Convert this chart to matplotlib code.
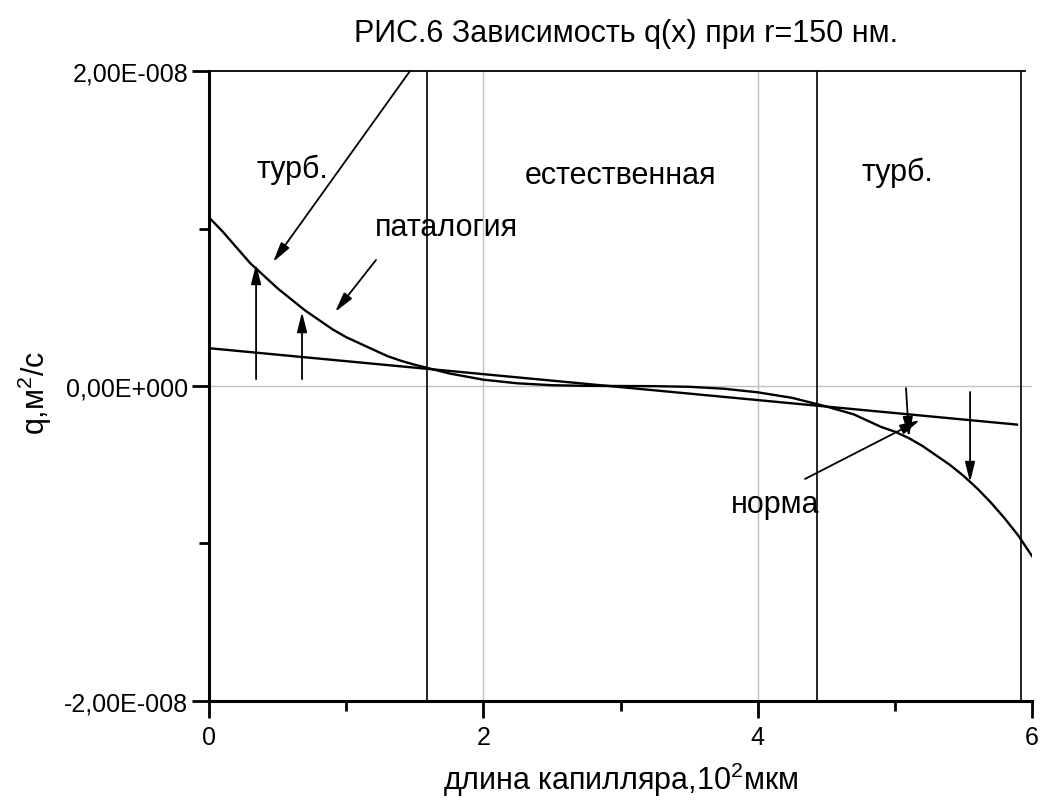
import numpy as np
import matplotlib.pyplot as plt
from matplotlib.ticker import FixedLocator

plt.rcParams['font.family'] = ['Liberation Sans', 'DejaVu Sans']

# кривая q(x), значения (в единицах 1e-8 м^2/с)
x_curve = [0.0, 0.1, 0.2, 0.3, 0.4, 0.5, 0.6, 0.7, 0.8, 0.9, 1.0, 1.1, 1.2, 1.3, 1.4, 1.5,
           1.75, 2.0, 2.25, 2.5, 2.75, 3.0, 3.25, 3.5, 3.75, 4.0, 4.25,
           4.5, 4.6, 4.7, 4.8, 4.9, 5.0, 5.1, 5.2, 5.3, 5.4, 5.5, 5.6, 5.7, 5.8, 5.9, 6.0]
q_curve = [1.07, 0.98, 0.88, 0.78, 0.70, 0.62, 0.55, 0.48, 0.42, 0.36, 0.31, 0.27, 0.23, 0.19, 0.16, 0.135,
           0.08, 0.04, 0.017, 0.005, 0.001, 0.0, -0.001, -0.005, -0.017, -0.04, -0.075,
           -0.13, -0.155, -0.18, -0.22, -0.26, -0.29, -0.33, -0.38, -0.44, -0.50, -0.57, -0.65, -0.74, -0.84, -0.95, -1.08]

# прямая (норма)
x_line = [0.0, 5.89]
q_line = [0.24, -0.245]

# вертикальные границы зон
x_bounds = [1.59, 4.43, 5.92]

# подписи зон
labels = ['турб.', 'естественная', 'турб.', 'паталогия', 'норма']
label_x = [0.605, 3.0, 5.02, 1.728, 4.126]
label_y = [1.378, 1.34, 1.359, 1.01, -0.749]

# стрелки: (x_хвост, y_хвост, x_голова, y_голова)
arrows = [(1.465, 2.0, 0.467, 0.787),
          (1.217, 0.80, 0.919, 0.47),
          (0.343, 0.044, 0.343, 0.775),
          (0.678, 0.044, 0.678, 0.47),
          (5.081, -0.013, 5.103, -0.324),
          (4.345, -0.59, 5.183, -0.216),
          (5.548, -0.038, 5.548, -0.61)]

scale = 1e-8

fig = plt.figure(figsize=(10.41, 8.03), dpi=100)
ax = fig.add_axes([0.2008, 0.1258, 0.7906, 0.7845])

ax.set_xlim(0, 6)
ax.set_ylim(-2e-8, 2e-8)

# сетка
ax.axvline(2, color='#c0c0c0', lw=1.0, zorder=0)
ax.axvline(4, color='#c0c0c0', lw=1.0, zorder=0)
ax.axhline(0, color='#c0c0c0', lw=1.0, zorder=0)

# верхняя рамка
ax.plot([0, 5.95], [2e-8, 2e-8], color='black', lw=1.3, clip_on=False)

for xb in x_bounds:
    ax.axvline(xb, color='black', lw=1.2)

ax.plot(x_curve, np.array(q_curve) * scale, color='black', lw=1.7)
ax.plot(x_line, np.array(q_line) * scale, color='black', lw=1.7)

for x0, y0, x1, y1 in arrows:
    ax.annotate('', xy=(x1, y1 * scale), xytext=(x0, y0 * scale),
                arrowprops=dict(arrowstyle='-|>,head_length=0.6,head_width=0.15',
                                color='black', lw=1.3, mutation_scale=20,
                                shrinkA=0, shrinkB=0))

for t, lx, ly in zip(labels, label_x, label_y):
    ax.text(lx, ly * scale, t, ha='center', va='center', fontsize=22)

# оси
ax.spines['top'].set_visible(False)
ax.spines['right'].set_visible(False)
ax.spines['left'].set_linewidth(2.2)
ax.spines['bottom'].set_linewidth(2.2)

ax.xaxis.set_major_locator(FixedLocator([0, 2, 4, 6]))
ax.xaxis.set_minor_locator(FixedLocator([1, 3, 5]))
ax.set_xticklabels(['0', '2', '4', '6'])
ax.yaxis.set_major_locator(FixedLocator([-2e-8, 0, 2e-8]))
ax.yaxis.set_minor_locator(FixedLocator([-1e-8, 1e-8]))
ax.set_yticklabels(['-2,00E-008', '0,00E+000', '2,00E-008'])
ax.tick_params(which='major', length=12, width=2, labelsize=18)
ax.tick_params(axis='y', which='major', pad=3)
ax.tick_params(axis='x', which='major', pad=5)
ax.tick_params(which='minor', length=7, width=2)
ax.yaxis.get_offset_text().set_visible(False)

fig.text(0.601, 1 - 42 / 803, 'РИС.6 Зависимость q(x) при r=150 нм.',
         ha='center', va='baseline', fontsize=22)
ax.set_xlabel(r'длина капилляра,10$^\mathregular{2}$мкм', fontsize=22, va='top')
ax.xaxis.set_label_coords(0.5, -0.094)
ax.set_ylabel(r'q,м$^\mathregular{2}$/с', fontsize=22)
ax.yaxis.set_label_coords(-0.188, 0.49)

fig.savefig('out.png', dpi=100)
